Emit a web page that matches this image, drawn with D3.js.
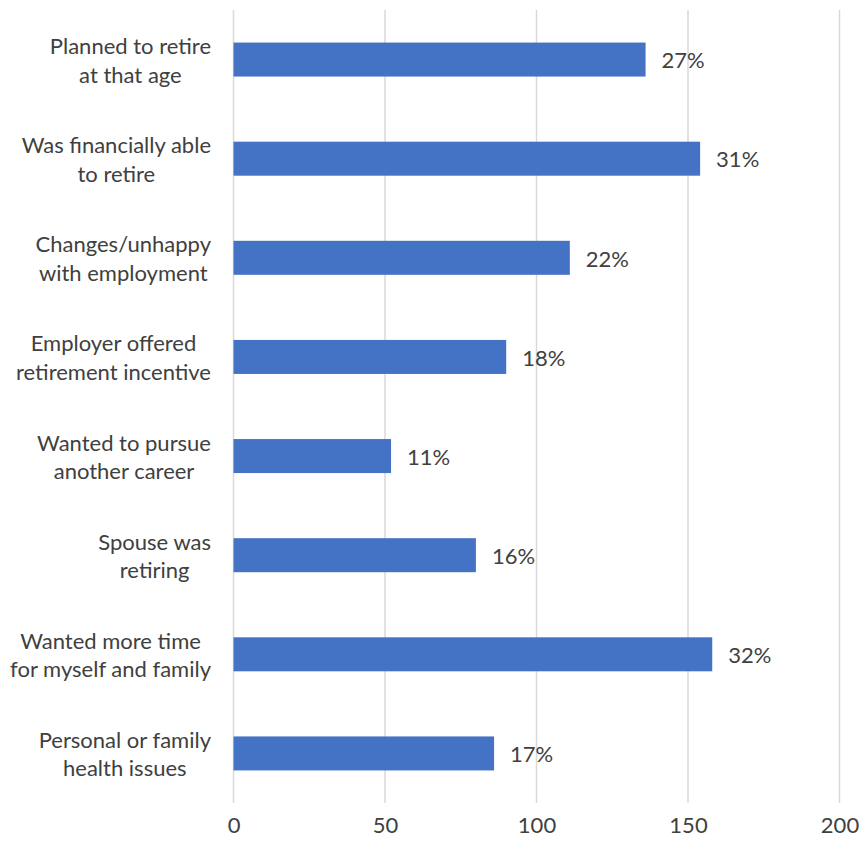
<!DOCTYPE html>
<html>
<head>
<meta charset="utf-8">
<script src="https://cdn.jsdelivr.net/npm/d3@7"></script>
<style>
  html, body { margin: 0; padding: 0; background: #fff; }
  svg { display: block; }
</style>
</head>
<body>
<div id="chart"></div>
<script>
// Reasons for retiring: respondent counts with share labels
const reasons = [
  ["Planned to retire", "at that age"],
  ["Was financially able", "to retire"],
  ["Changes/unhappy", "with employment"],
  ["Employer offered", "retirement incentive"],
  ["Wanted to pursue", "another career"],
  ["Spouse was", "retiring"],
  ["Wanted more time", "for myself and family"],
  ["Personal or family", "health issues"]
];
const counts = [136, 154, 111, 90, 52, 80, 158, 86];
const shares = ["27%", "31%", "22%", "18%", "11%", "16%", "32%", "17%"];
const xTicks = [0, 50, 100, 150, 200];

const W = 862, H = 846;
const margin = { top: 10, right: 22.5, bottom: 43, left: 233.5 };
const FONT = "Lato, 'Open Sans', sans-serif";
const FS = 22;
const TEXT = "#404040";

const svg = d3.select("#chart").append("svg")
  .attr("width", W).attr("height", H);

const x = d3.scaleLinear().domain([0, 200]).range([margin.left, W - margin.right]);
const y = d3.scaleBand()
  .domain(d3.range(counts.length))
  .range([margin.top, H - margin.bottom])
  .paddingInner(0.657)
  .paddingOuter(0.3285);

// vertical gridlines
svg.append("g").selectAll("line").data(xTicks).join("line")
  .attr("x1", d => x(d)).attr("x2", d => x(d))
  .attr("y1", margin.top).attr("y2", H - margin.bottom)
  .attr("stroke", "#d9d9d9").attr("stroke-width", 1.5);

// bars
svg.append("g").selectAll("rect").data(counts).join("rect")
  .attr("x", x(0))
  .attr("y", (d, i) => y(i))
  .attr("width", d => x(d) - x(0))
  .attr("height", y.bandwidth())
  .attr("fill", "#4472C4");

// value labels
svg.append("g").selectAll("text").data(counts).join("text")
  .attr("x", d => x(d) + 16)
  .attr("y", (d, i) => y(i) + y.bandwidth() / 2 + 1)
  .attr("dy", "0.35em")
  .attr("font-family", FONT).attr("font-size", FS)
  .attr("fill", TEXT)
  .text((d, i) => shares[i]);

// x axis tick labels
const xAxis = d3.axisBottom(x).tickValues(xTicks).tickSize(0).tickPadding(0);
const gx = svg.append("g")
  .attr("transform", `translate(0,${H - 13})`)
  .call(xAxis);
gx.select(".domain").remove();
gx.selectAll("text")
  .attr("font-family", FONT).attr("font-size", FS)
  .attr("fill", TEXT).attr("dy", "0").attr("y", 0);

// category labels: lines centred within a block right-aligned to the axis
const labelRight = 211;
const lineH = 28.5;
const catG = svg.append("g");
reasons.forEach((lines, i) => {
  const g = catG.append("g");
  const texts = lines.map((ln, k) => g.append("text")
    .attr("font-family", FONT).attr("font-size", FS)
    .attr("fill", TEXT)
    .attr("text-anchor", "middle")
    .attr("y", y(i) + y.bandwidth() / 2 + (k - (lines.length - 1) / 2) * lineH + 1)
    .attr("dy", "0.35em")
    .text(ln));
  const wMax = d3.max(texts, t => t.node().getComputedTextLength());
  texts.forEach(t => t.attr("x", labelRight - wMax / 2));
});
</script>
</body>
</html>
